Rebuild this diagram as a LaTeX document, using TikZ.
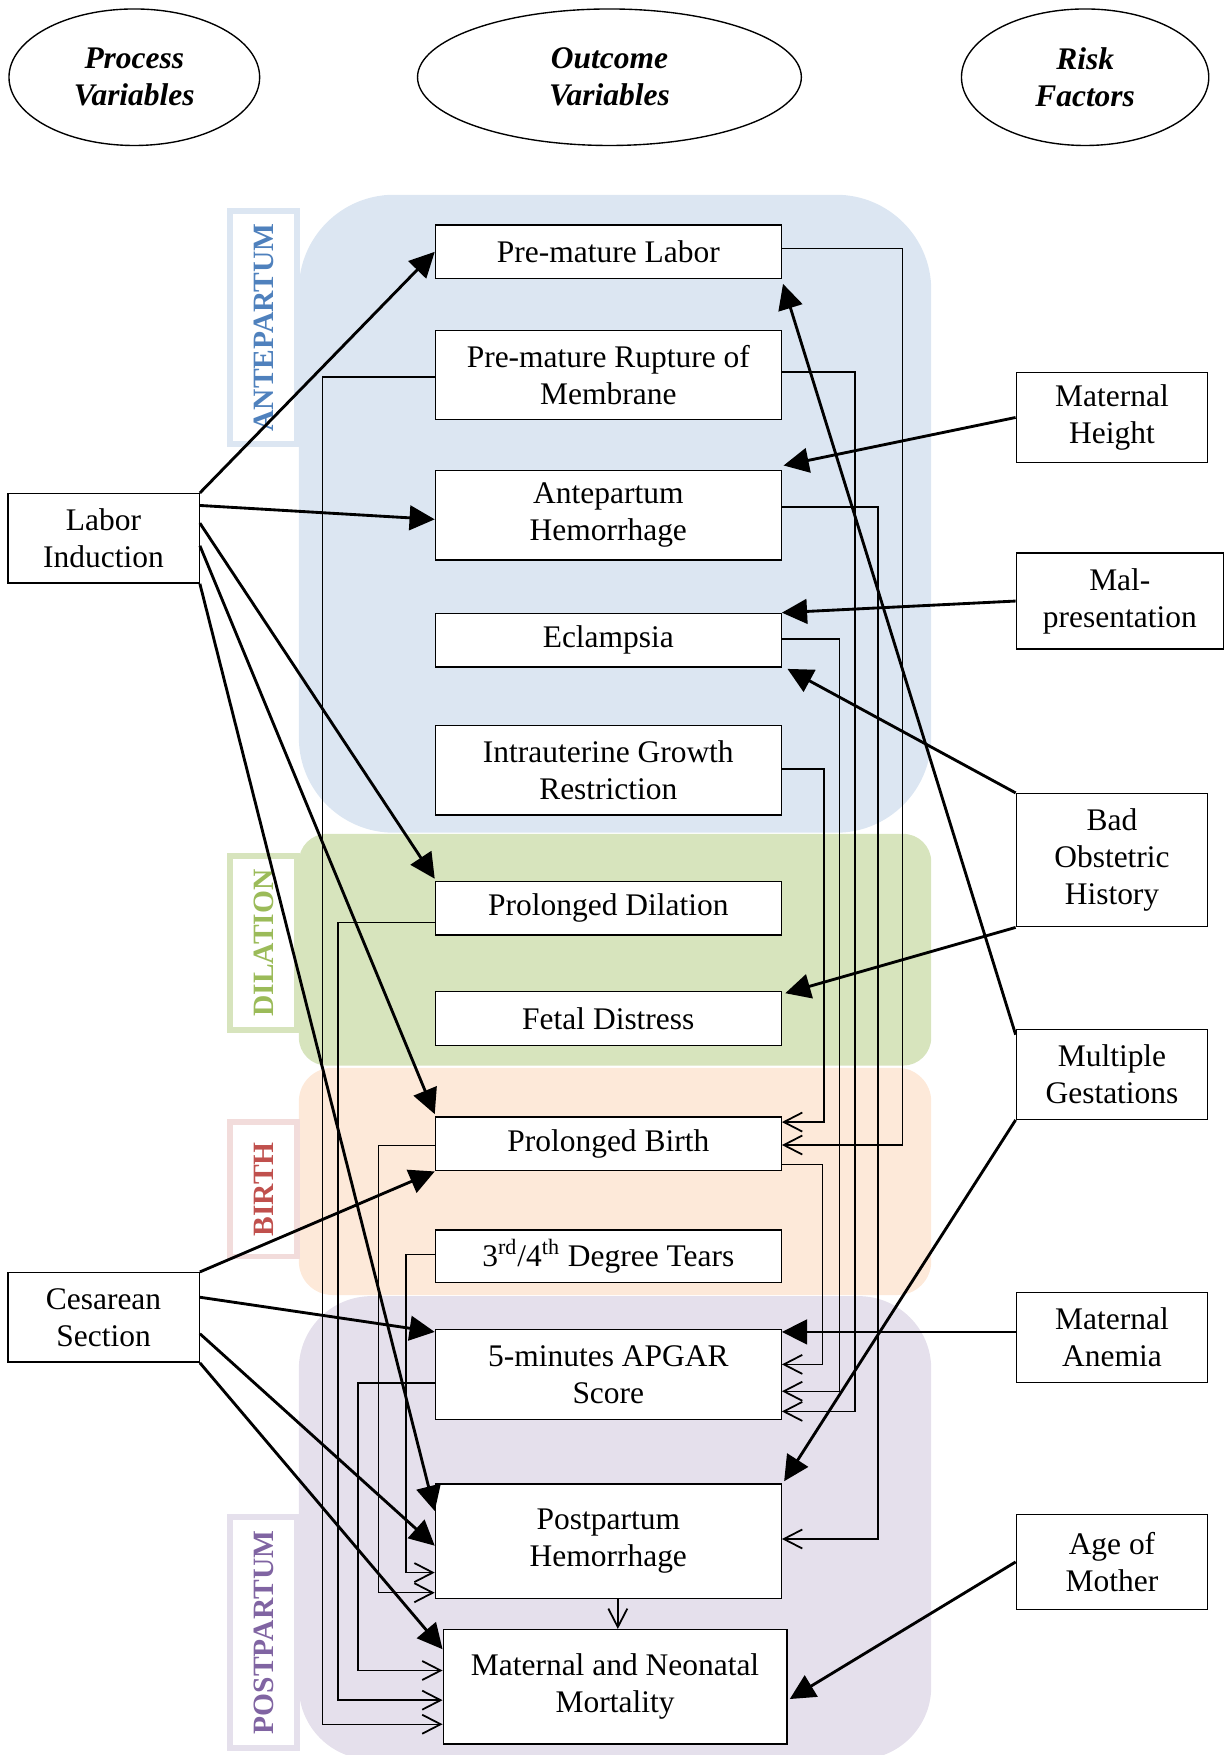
\documentclass[tikz,border=0pt]{standalone}
\usepackage{fontspec}
\setmainfont{Liberation Serif}
\usetikzlibrary{arrows.meta,shapes.geometric,calc}
\definecolor{regblue}{HTML}{DCE6F2}
\definecolor{reggreen}{HTML}{D7E4BD}
\definecolor{regorange}{HTML}{FDE9D9}
\definecolor{regpurple}{HTML}{E5E0EC}
\definecolor{txtblue}{HTML}{4F81BD}
\definecolor{txtgreen}{HTML}{9BBB59}
\definecolor{txtred}{HTML}{C0504D}
\definecolor{txtpurple}{HTML}{8064A2}
\definecolor{bordpink}{HTML}{F2DCDB}
\begin{document}
\begin{tikzpicture}[x=0.02cm,y=-0.02cm,
  every node/.style={font=\fontsize{16}{18.8}\selectfont},
  nodebox/.style={draw, fill=white, line width=0.7pt, align=center, inner sep=0pt},
  outcbox/.style={nodebox, minimum width=6.18cm},
  sidebox/.style={nodebox, minimum width=3.42cm},
  headell/.style={draw, ellipse, line width=0.7pt, align=center, minimum height=2.44cm, inner sep=0pt, font=\fontsize{16}{18.8}\selectfont\bfseries\itshape},
  phasebox/.style={draw, line width=0.1cm, fill=white, rotate=90, minimum height=1.2cm, inner sep=0pt, font=\fontsize{15}{18}\selectfont\bfseries},
  bigarrow/.style={line width=1.45pt, -{Triangle[length=4.5mm,width=4.4mm]}},
  flowarrow/.style={line width=0.75pt, -{Straight Barb[length=3.3mm,width=3.4mm,line width=0.9pt]}}
]
\useasboundingbox (0,0) rectangle (1094,1568);
\begin{scope}
\clip (0,0) rectangle (1094,1568);
% phase regions
\fill[regblue, rounded corners=1.7cm] (267,174) rectangle (832,744);
\fill[reggreen, rounded corners=0.5cm] (267,745) rectangle (832,952);
\fill[regorange, rounded corners=0.6cm] (267,954) rectangle (832,1157);
\fill[regpurple, rounded corners=1.3cm] (267,1158) rectangle (832,1572);
\end{scope}

% headings
\node[headell, minimum width=4.48cm] (hproc) at (120,69) {Process\\Variables};
\node[headell, minimum width=6.86cm] (hout) at (544.5,69) {Outcome\\Variables};
\node[headell, minimum width=4.42cm] (hrisk) at (969.5,69) {Risk\\Factors};

% phase labels
\node[phasebox, draw=regblue, text=txtblue, minimum width=4.16cm] (lante) at (235.5,292.5) {ANTEPARTUM};
\node[phasebox, draw=reggreen, text=txtgreen, minimum width=3.12cm] (ldil) at (235.5,842.5) {DILATION};
\node[phasebox, draw=bordpink, text=txtred, minimum width=2.4cm] (lbirth) at (235.5,1062.5) {BIRTH};
\node[phasebox, draw=regpurple, text=txtpurple, minimum width=4.12cm] (lpost) at (235.5,1458.5) {POSTPARTUM};

% outcome boxes
\node[outcbox, minimum height=0.96cm] (pml) at (543.5,225) {Pre-mature Labor};
\node[outcbox, minimum height=1.6cm] (prom) at (543.5,335) {Pre-mature Rupture of\\Membrane};
\node[outcbox, minimum height=1.6cm] (aph) at (543.5,460.5) {Antepartum\\Hemorrhage};
\node[outcbox, minimum height=0.96cm] (ecl) at (543.5,572) {Eclampsia};
\node[outcbox, minimum height=1.6cm] (iugr) at (543.5,688) {Intrauterine Growth\\Restriction};
\node[outcbox, minimum height=0.95cm] (pd) at (543.5,811.5) {Prolonged Dilation};
\node[outcbox, minimum height=0.96cm] (fd) at (543.5,910) {Fetal Distress};
\node[outcbox, minimum height=0.96cm] (pb) at (543.5,1022) {Prolonged Birth};
\node[outcbox, minimum height=0.94cm] (tears) at (543.5,1122.5) {3\textsuperscript{rd}/4\textsuperscript{th} Degree Tears};
\node[outcbox, minimum height=1.6cm] (apgar) at (543.5,1228) {5-minutes APGAR\\Score};
\node[outcbox, minimum height=2.04cm] (pph) at (543.5,1377) {Postpartum\\Hemorrhage};
\node[nodebox, minimum width=6.14cm, minimum height=2.04cm] (mnm) at (549.5,1507) {Maternal and Neonatal\\Mortality};

% process variables
\node[sidebox, minimum height=1.6cm] (li) at (92.5,481) {Labor\\Induction};
\node[sidebox, minimum height=1.6cm] (cs) at (92.5,1177) {Cesarean\\Section};

% risk factors
\node[sidebox, minimum height=1.6cm] (mh) at (993.5,373) {Maternal\\Height};
\node[nodebox, minimum width=3.7cm, minimum height=1.72cm] (malp) at (1000.5,537) {Mal-\\presentation};
\node[sidebox, minimum height=2.38cm] (boh) at (993.5,768.5) {Bad\\Obstetric\\History};
\node[sidebox, minimum height=1.6cm] (mg) at (993.5,960) {Multiple\\Gestations};
\node[sidebox, minimum height=1.6cm] (ma) at (993.5,1195) {Maternal\\Anemia};
\node[sidebox, minimum height=1.7cm] (aom) at (993.5,1395.5) {Age of\\Mother};

% Labor induction arrows
\draw[bigarrow] (li.north east) -- (pml.west);
\draw[bigarrow] (li.east |- 0,451.6) -- (aph.west |- 0,464);
\draw[bigarrow] (li.east |- 0,467.4) -- ($(pd.north west)+(0,-2)$);
\draw[bigarrow] (li.east |- 0,487.6) -- ($(pb.north west)+(0,-2)$);
\draw[bigarrow] (li.south east) -- (pph.west |- 0,1350);

% Cesarean section arrows
\draw[bigarrow] (cs.north east) -- (pb.south west);
\draw[bigarrow] (cs.east |- 0,1159) -- (apgar.west |- 0,1190);
\draw[bigarrow] (cs.east |- 0,1191.6) -- (pph.west |- 0,1381);
\draw[bigarrow] (cs.south east) -- (mnm.west |- 0,1473.5);

% risk factor arrows
\draw[bigarrow] (mh.west) -- ($(aph.north east)+(1.5,-4)$);
\draw[bigarrow] (malp.west) -- (ecl.north east);
\draw[bigarrow] (boh.north west) -- ($(ecl.south east)+(5,1)$);
\draw[bigarrow] (boh.south west) -- ($(fd.north east)+(3,2)$);
\draw[bigarrow] ($(mg.north west)+(0,5)$) -- ($(pml.south east)+(1,4)$);
\draw[bigarrow] (mg.south west) -- ($(pph.north east)+(2,-2)$);
\draw[bigarrow] (ma.west |- 0,1190) -- (apgar.east |- 0,1190);
\draw[bigarrow] (aom.west) -- ($(mnm.east)+(2,11)$);

% right-side flows
\draw[flowarrow] (pml.east |- 0,222) -| (806.5,1023) -- (pb.east |- 0,1023);
\draw[flowarrow] (prom.east |- 0,332.5) -| (764,1261) -- (apgar.east |- 0,1261);
\draw[flowarrow] (aph.east |- 0,453) -| (784.5,1375) -- (pph.east |- 0,1375);
\draw[flowarrow] (ecl.east |- 0,571) -| (750,1243) -- (apgar.east |- 0,1243);
\draw[flowarrow] (iugr.east |- 0,687) -| (736,1002.5) -- (pb.east |- 0,1002.5);
\draw[flowarrow] (pb.east |- 0,1040.5) -| (735,1219) -- (apgar.east |- 0,1219);

% left-side flows
\draw[flowarrow] (prom.west |- 0,337) -| (288.3,1540.5) -- (mnm.west |- 0,1540.5);
\draw[flowarrow] (pd.west |- 0,824) -| (302,1519) -- (mnm.west |- 0,1519);
\draw[flowarrow] (apgar.west |- 0,1235.5) -| (320,1492.5) -- (mnm.west |- 0,1492.5);
\draw[flowarrow] (pb.west |- 0,1023.5) -| (338,1423) -- (pph.west |- 0,1423);
\draw[flowarrow] (tears.west |- 0,1121) -| (362.6,1405) -- (pph.west |- 0,1405);
\draw[flowarrow] (pph.south -| 552,0) -- (mnm.north -| 552,0);
\end{tikzpicture}
\end{document}
